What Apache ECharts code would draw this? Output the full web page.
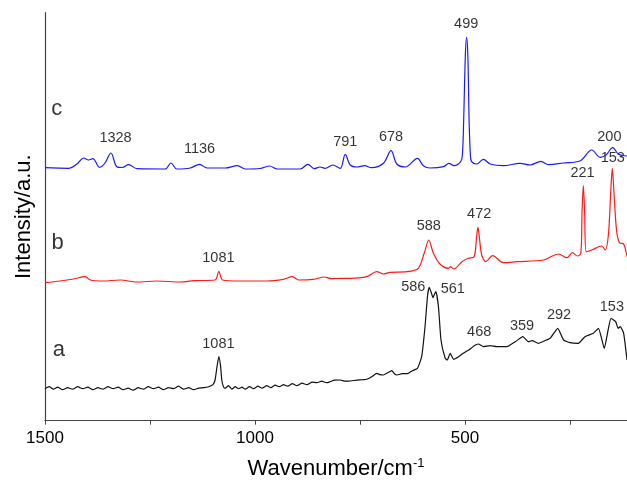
<!DOCTYPE html>
<html>
<head>
<meta charset="utf-8">
<script src="https://cdn.jsdelivr.net/npm/echarts@6/dist/echarts.min.js"></script>
<style>
  html, body { margin: 0; padding: 0; background: #fff; }
  #chart { width: 627px; height: 482px; }
</style>
</head>
<body>
<div id="chart"></div>
<script>
// spectra as [wavenumber, intensity (a.u., offset already applied)]
const spectrumC = [
  [1500, 253], [1444, 252.4], [1424, 256.7], [1408, 262.7], [1396, 260.7], [1386, 262],
  [1370, 253.4], [1357, 257.7], [1343, 267.7], [1329, 254], [1316, 253.2], [1301, 256],
  [1281, 252], [1214, 251.7], [1200, 257.7], [1186, 251.7], [1154, 252.7], [1132, 256.4],
  [1114, 252.7], [1071, 252.7], [1042, 255], [1023, 251.7], [988, 252.2], [965, 254.7],
  [947, 251.7], [892, 251.7], [874, 256.4], [859, 252], [845, 253.7], [833, 252.4],
  [815, 255.7], [797, 252.4], [785, 266.4], [773, 255.7], [757, 253.7], [739, 255],
  [722, 253], [694, 257.4], [676, 270], [662, 256.7], [642, 253.7], [613, 262.4],
  [599, 255], [583, 252.7], [551, 254], [538, 257.4], [526, 255], [510, 259],
  [506, 266], [503, 300], [499, 365], [496, 383.4], [493, 365], [490, 300], [487, 266],
  [484, 259], [472, 256.7], [456, 261.4], [440, 256.7], [408, 255], [369, 257.4],
  [345, 255.7], [319, 259.4], [301, 256], [265, 257.7], [226, 259.7], [198, 270.7],
  [178, 263.4], [164, 265.7], [148, 273], [134, 266.4], [114, 264.7]
];
const spectrumB = [
  [1500, 138], [1464, 139.7], [1432, 141.7], [1404, 144], [1392, 140.7], [1361, 139.7],
  [1321, 140.7], [1281, 138.7], [1234, 139.7], [1178, 138.7], [1146, 140], [1095, 140.7],
  [1086, 149.4], [1077, 140.7], [1035, 139.7], [972, 139.7], [932, 141.4], [911, 144],
  [896, 140.7], [861, 141.4], [835, 143.7], [817, 142], [797, 142.4], [773, 142.4],
  [734, 144], [710, 149], [694, 146.7], [678, 148.4], [638, 149], [611, 152.4],
  [597, 167.4], [586, 180.7], [575, 167.4], [559, 156.4], [539, 152.4], [535, 154],
  [526, 151.7], [507, 159], [492, 162.4], [478, 164], [472, 185], [469, 193.4],
  [466, 185], [460, 165.7], [450, 159], [434, 165], [408, 158], [376, 159],
  [313, 160.7], [277, 166.7], [257, 163], [244, 168], [232, 164.7], [224, 167.4],
  [221, 210], [218, 235], [215, 210], [211, 169], [198, 170.7], [174, 174.7],
  [166, 170.7], [158, 187.4], [152, 235], [149, 252.4], [146, 235], [139, 190.7],
  [132, 178], [122, 176.7], [114, 164]
];
const spectrumA = [
  [1500, 32], [1490, 34], [1480, 31.5], [1470, 33.5], [1458, 31], [1446, 33], [1434, 31.5],
  [1422, 34], [1410, 32], [1398, 33.5], [1386, 31], [1374, 33], [1362, 31.5], [1350, 34],
  [1338, 32], [1326, 33.5], [1314, 31], [1302, 32.5], [1290, 30.5], [1278, 33], [1266, 31.5],
  [1254, 34], [1242, 32], [1230, 33.5], [1218, 31], [1206, 33], [1194, 32], [1182, 34.5],
  [1170, 31.5], [1158, 33], [1146, 31], [1134, 32.5], [1122, 33], [1110, 34], [1100, 36],
  [1095, 40.7], [1090, 55], [1086, 64], [1082, 55], [1079, 40.7], [1075, 34], [1071, 32.4],
  [1063, 35], [1055, 31.5], [1047, 34], [1039, 32], [1031, 33.5], [1023, 31.5], [1013, 34],
  [1003, 32], [993, 34.5], [983, 32.5], [972, 35], [962, 33], [952, 35.5], [942, 34],
  [932, 36], [922, 34.5], [911, 37], [900, 35], [888, 37.5], [876, 36], [864, 38.5],
  [853, 38], [841, 39.5], [829, 38], [821, 39], [811, 40.5], [797, 40.7], [785, 39.5],
  [773, 39.7], [757, 40.5], [743, 41], [734, 41.4], [722, 44], [710, 47.4], [702, 46],
  [694, 45.7], [684, 48], [674, 50], [668, 47], [662, 45.7], [650, 47], [635, 47.4],
  [625, 50], [613, 52.4], [603, 64], [595, 94], [589, 125], [585, 133.4], [580, 128],
  [576, 123], [572, 127], [569, 129], [563, 114], [557, 80.7], [547, 62.4], [542, 60.7],
  [535, 67.4], [527, 61.4], [515, 64], [504, 67.4], [488, 71.4], [478, 75], [468, 76.7],
  [456, 74], [440, 75], [424, 74], [408, 74], [400, 74], [380, 79], [362, 84], [349, 79],
  [340, 80], [325, 77.4], [310, 80], [297, 82.4], [279, 92.4], [265, 80.7], [250, 78],
  [230, 77.4], [214, 84], [194, 87.4], [182, 92.4], [168, 72.4], [159, 90.7], [152, 102.4],
  [141, 99], [135, 92.4], [130, 94], [122, 87.4], [114, 60.7]
];

// peak annotations: text and where it sits
const peakTexts = ['1328', '1136', '791', '678', '499', '200',
  '153', '221', '472', '588', '1081',
  '1081', '586', '561', '468', '359', '292', '153'];
const peakPos = [[1332, 282.4], [1132, 271.4], [785, 279], [676, 283.4], [497, 396.4], [156, 284],
  [148, 262.4], [220, 247.4], [466, 206.7], [586, 195], [1087, 162.4],
  [1087, 76.7], [623, 133.4], [529, 131.4], [466, 88.4], [364, 94.7], [276, 105.4], [150, 114]];
const traceNames = ['c', 'b', 'a'];
const tracePos = [[1472, 311.7], [1470, 177.4], [1467, 70.7]];

const xTicks = [1500, 1250, 1000, 750, 500, 250];
const xLabels = [1500, 1000, 500];

const chart = echarts.init(document.getElementById('chart'));
const font = 'Liberation Sans, Arial, sans-serif';

const lineSeries = (data, color, smooth) => ({
  type: 'line',
  data,
  symbol: 'none',
  smooth,
  lineStyle: { color, width: 1.2 },
  silent: true
});
const textSeries = (texts, pos, size) => ({
  type: 'scatter',
  symbolSize: 0,
  silent: true,
  data: pos.map((p, i) => ({ value: p, name: texts[i] })),
  label: {
    show: true,
    position: 'inside',
    formatter: '{b}',
    color: '#000',
    textBorderWidth: 0,
    fontSize: size,
    fontFamily: font
  }
});

chart.setOption({
  animation: false,
  grid: { left: 45, right: 0, top: 12.7, bottom: 61.3, outerBoundsMode: 'none', containLabel: false },
  xAxis: {
    type: 'value',
    inverse: true,
    min: 114,
    max: 1500,
    name: '{a|Wavenumber/cm}{b|-1}',
    nameLocation: 'middle',
    nameGap: 36,
    nameTextStyle: {
      rich: {
        a: { fontSize: 22, fontFamily: font, color: '#000' },
        b: { fontSize: 13, fontFamily: font, color: '#000', verticalAlign: 'top', padding: [0, 0, 12, 0] }
      }
    },
    axisLine: { lineStyle: { color: '#444', width: 1.2 } },
    axisTick: { show: true, customValues: xTicks, length: 4, lineStyle: { color: '#444' } },
    axisLabel: {
      customValues: xLabels,
      formatter: v => String(v),
      fontSize: 17,
      fontFamily: font,
      color: '#000',
      margin: 9
    },
    splitLine: { show: false }
  },
  yAxis: {
    type: 'value',
    min: 0,
    max: 408,
    name: 'Intensity/a.u.',
    nameLocation: 'middle',
    nameGap: 10,
    nameTextStyle: { fontSize: 22, fontFamily: font, color: '#000' },
    axisLine: { show: true, lineStyle: { color: '#444', width: 1.2 } },
    axisTick: { show: false },
    axisLabel: { show: false },
    splitLine: { show: false }
  },
  series: [
    lineSeries(spectrumA, '#111', 0.15),
    lineSeries(spectrumB, '#ff1a1a', 0.3),
    lineSeries(spectrumC, '#1a1aff', 0.35),
    textSeries(peakTexts, peakPos, 14.5),
    textSeries(traceNames, tracePos, 22)
  ]
});
</script>
</body>
</html>
